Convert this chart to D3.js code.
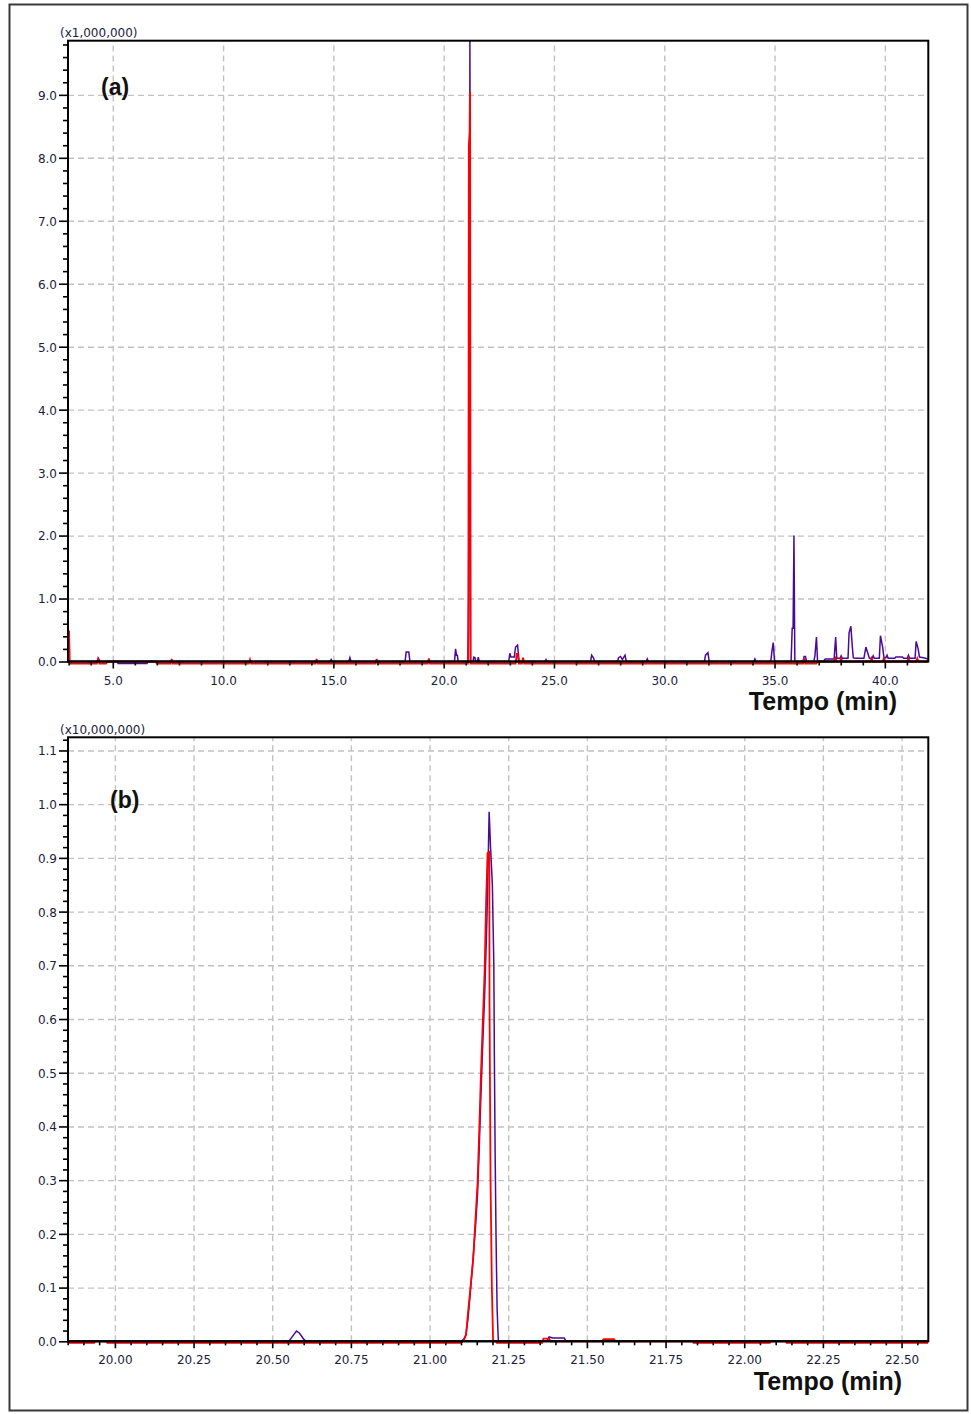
<!DOCTYPE html>
<html>
<head>
<meta charset="utf-8">
<script src="https://cdn.jsdelivr.net/npm/d3@7"></script>
<style>
  html, body { margin: 0; padding: 0; background: #fff; }
  svg { display: block; }
</style>
</head>
<body>
<svg id="chart" width="971" height="1414"></svg>
<script>
// ---------------- DATA ----------------
// Panel (a): full chromatogram, intensity x1,000,000
const purpleA = [
  [2.97,0],[4.28,0],[4.35,0.05],[4.42,0],
  [5.20,0],[5.24,-0.03],[6.55,-0.03],[6.60,0],
  [14.85,0],[14.90,0.03],[14.95,0],
  [15.70,0],[15.75,0.06],[15.80,0],
  [18.25,0],[18.30,0.15],[18.42,0.15],[18.47,0],
  [20.49,0],[20.54,0.20],[20.58,0.10],[20.62,0.10],[20.66,0],
  [21.10,0],[21.13,1.1],[21.16,4.5],[21.175,6.4],[21.189,9.86],[21.197,8.5],[21.205,5.4],[21.211,2.0],[21.218,0],
  [21.33,0],[21.37,0.07],[21.42,0.06],[21.46,0],
  [21.53,0],[21.57,0.07],[21.61,0],
  [22.95,0],[23.00,0.13],[23.05,0.07],[23.20,0.07],[23.26,0.23],[23.35,0.26],[23.42,0],
  [24.60,0],[24.64,0.03],[24.68,0],
  [26.66,0],[26.71,0.10],[26.79,0.06],[26.84,0],
  [27.88,0],[27.93,0.06],[28.02,0.08],[28.10,0.03],[28.22,0.10],[28.28,0],
  [29.18,0],[29.23,0.04],[29.28,0],
  [31.82,0],[31.87,0.10],[31.98,0.14],[32.04,0],
  [34.06,0],[34.11,0.04],[34.16,0],
  [34.83,0],[34.88,0.16],[34.94,0.30],[35.00,0],
  [35.75,0],[35.80,0.53],[35.84,0.53],[35.88,2.0],[35.92,0],
  [36.29,0],[36.34,0.08],[36.40,0.08],[36.45,0],
  [36.78,0],[36.83,0.09],[36.90,0.39],[36.95,0],
  [37.20,0],[37.30,0.04],[37.70,0.04],[37.77,0.39],[37.82,0.05],[37.97,0.05],[38.02,0.09],[38.07,0.05],
  [38.33,0.05],[38.38,0.46],[38.46,0.56],[38.52,0.26],[38.57,0.06],[38.65,0.05],[39.05,0.05],
  [39.14,0.23],[39.23,0.13],[39.30,0.05],[39.42,0.05],[39.47,0.09],[39.52,0.05],[39.75,0.05],
  [39.80,0.41],[39.90,0.23],[39.96,0.06],[40.05,0.06],[40.10,0.10],[40.15,0.05],[40.45,0.05],
  [40.50,0.07],[40.80,0.07],[40.85,0.05],[41.02,0.05],[41.07,0.10],[41.12,0.05],[41.37,0.05],
  [41.42,0.32],[41.51,0.20],[41.57,0.07],[41.75,0.06],[41.97,0.04]
];
const redA = [
  [2.97,0.48],[3.02,0.48],[3.05,-0.035],[4.28,-0.035],[4.33,0.04],[4.40,-0.035],[4.70,-0.035],[4.75,0],
  [6.95,0],[7.00,-0.035],[7.62,-0.035],[7.67,0.04],[7.72,-0.035],[11.17,-0.035],[11.22,0.03],[11.27,-0.035],
  [14.19,-0.035],[14.24,0.04],[14.29,-0.035],[16.91,-0.035],[16.96,0.04],[17.01,-0.035],
  [19.28,-0.035],[19.33,0.05],[19.38,-0.035],
  [21.10,-0.035],[21.12,0.5],[21.14,8.2],[21.175,8.4],[21.19,9.05],[21.20,8.2],[21.21,3.0],[21.22,-0.035],
  [23.26,-0.035],[23.31,0.12],[23.36,0.12],[23.41,-0.035],[23.55,-0.035],[23.60,0.06],[23.65,-0.035],
  [36.29,-0.035],[36.34,0.05],[36.39,-0.035],[36.90,-0.035],[36.95,0],
  [37.72,0],[37.77,0.05],[37.82,0],[37.97,0],[38.02,0.05],[38.07,0],[39.35,0],[39.40,0.05],[39.45,0],
  [39.90,0],[39.95,0.05],[40.00,0],[41.02,0],[41.07,0.05],[41.12,0],[41.42,0],[41.47,0.05],[41.52,0],[41.97,0]
];
// Panel (b): zoom on the main peak, intensity x10,000,000
const purpleB = [
  [19.851,0],[20.553,0],[20.568,0.012],[20.577,0.019],[20.587,0.015],[20.600,0.004],[20.607,0],
  [21.1017,0],[21.109,0.004],[21.1154,0.012],[21.1217,0.04],[21.128,0.08],[21.1328,0.115],[21.1385,0.155],
  [21.1462,0.215],[21.1525,0.275],[21.1576,0.355],[21.163,0.455],[21.1694,0.56],[21.1748,0.64],[21.1821,0.78],
  [21.1875,0.93],[21.1894,0.986],[21.1938,0.92],[21.1996,0.85],[21.2043,0.70],[21.2059,0.536],[21.2084,0.35],
  [21.2112,0.2],[21.2147,0.06],[21.2186,0],
  [21.372,0],[21.380,0.008],[21.392,0.006],[21.428,0.006],[21.434,0],[22.585,0]
];
const redB = [
  [19.851,-0.0030],[19.934,-0.0030],[19.938,0],[19.972,0],[19.976,-0.0030],[21.098,-0.0030],[21.105,0],
  [21.1112,0.005],[21.116,0.012],[21.1217,0.05],[21.1297,0.098],[21.1385,0.151],[21.1462,0.231],[21.1525,0.294],
  [21.1576,0.387],[21.163,0.492],[21.1694,0.598],[21.1748,0.685],[21.1799,0.821],[21.1843,0.909],[21.19,0.911],
  [21.1905,0.635],[21.1938,0.30],[21.198,0.10],[21.202,0],[21.211,0],[21.214,-0.0030],[21.358,-0.0030],
  [21.362,0.005],[21.380,0.005],[21.384,0],[21.549,0],[21.553,0.004],[21.586,0.004],[21.590,0],
  [21.835,0],[21.839,-0.0030],[22.081,-0.0030],[22.085,0],[22.131,0],[22.135,-0.0030],[22.585,-0.0030]
];
// Tick labels
const xTicksA = [5, 10, 15, 20, 25, 30, 35, 40];
const yTicksA = [0, 1, 2, 3, 4, 5, 6, 7, 8, 9];
const xTicksB = [20.00, 20.25, 20.50, 20.75, 21.00, 21.25, 21.50, 21.75, 22.00, 22.25, 22.50];
const yTicksB = [0.0, 0.1, 0.2, 0.3, 0.4, 0.5, 0.6, 0.7, 0.8, 0.9, 1.0, 1.1];
const xTitle = "Tempo (min)";
const panelLabels = ["(a)", "(b)"];
const multipliers = ["(x1,000,000)", "(x10,000,000)"];

// ---------------- DRAW ----------------
const svg = d3.select("#chart");
svg.append("rect").attr("width", 971).attr("height", 1414).attr("fill", "#fff");
svg.append("rect").attr("x", 9.5).attr("y", 4.5).attr("width", 958).attr("height", 1406)
  .attr("fill", "none").attr("stroke", "#3a3a3a").attr("stroke-width", 2);

const TXT = "#1c1c3c";
const PURPLE = "#4a0a96";
const RED = "#ff0000";

function panel(cfg) {
  const x = d3.scaleLinear().domain(cfg.xDomain).range([cfg.left, cfg.right]);
  const y = d3.scaleLinear().domain(cfg.yDomain).range([cfg.bottom, cfg.top]);
  const g = svg.append("g");
  const h = cfg.bottom - cfg.top, w = cfg.right - cfg.left;

  // grid
  const gx = g.append("g").attr("transform", `translate(0,${cfg.bottom})`)
    .call(d3.axisBottom(x).tickValues(cfg.xTicks).tickSize(-h).tickFormat(""));
  const gy = g.append("g").attr("transform", `translate(${cfg.left},0)`)
    .call(d3.axisLeft(y).tickValues(cfg.yTicks.filter(d => d > 0)).tickSize(-w).tickFormat(""));
  [gx, gy].forEach(a => {
    a.select(".domain").remove();
    a.selectAll("line").attr("stroke", "#c2c2c2").attr("stroke-width", 1.4).attr("stroke-dasharray", "6,4");
  });

  // traces
  const clipId = "clip" + cfg.id;
  svg.append("defs").append("clipPath").attr("id", clipId)
    .append("rect").attr("x", cfg.left).attr("y", cfg.top).attr("width", w).attr("height", h + 4);
  const line = d3.line().x(d => x(d[0])).y(d => y(d[1]));
  const tg = g.append("g").attr("clip-path", `url(#${clipId})`);
  tg.append("path").datum(cfg.purple).attr("d", line).attr("fill", "none")
    .attr("stroke", PURPLE).attr("stroke-width", 1.5).attr("stroke-linejoin", "miter");
  tg.append("path").datum(cfg.red).attr("d", line).attr("fill", "none")
    .attr("stroke", RED).attr("stroke-width", 1.8).attr("stroke-linejoin", "miter");

  // frame
  g.append("rect").attr("x", cfg.left).attr("y", cfg.top).attr("width", w).attr("height", h)
    .attr("fill", "none").attr("stroke", "#000").attr("stroke-width", 2);

  // axes
  const yMinor = d3.range(cfg.yMinorStep, cfg.yDomain[1], cfg.yMinorStep)
    .filter(v => !cfg.yTicks.some(t => Math.abs(t - v) < 1e-6));
  const xMinor = d3.range(cfg.xMinorStart, cfg.xDomain[1], cfg.xMinorStep)
    .filter(v => !cfg.xTicks.some(t => Math.abs(t - v) < 1e-6));

  const ay2 = g.append("g").attr("transform", `translate(${cfg.left},0)`)
    .call(d3.axisLeft(y).tickValues(yMinor).tickSize(5).tickFormat(""));
  const ay = g.append("g").attr("transform", `translate(${cfg.left},0)`)
    .call(d3.axisLeft(y).tickValues(cfg.yTicks).tickSize(9).tickPadding(2).tickFormat(d3.format(".1f")));
  const ax2 = g.append("g").attr("transform", `translate(0,${cfg.bottom})`)
    .call(d3.axisBottom(x).tickValues(xMinor).tickSize(4).tickFormat(""));
  const ax = g.append("g").attr("transform", `translate(0,${cfg.bottom})`)
    .call(d3.axisBottom(x).tickValues(cfg.xTicks).tickSize(7).tickFormat(d3.format(cfg.xFmt)));
  [ay, ay2, ax, ax2].forEach(a => {
    a.select(".domain").remove();
    a.selectAll("line").attr("stroke", "#000").attr("stroke-width", 1.6);
    a.selectAll("text").attr("font-family", "DejaVu Sans, sans-serif").attr("font-size", 12).attr("fill", TXT);
  });
  ay.selectAll("text").attr("dy", null).attr("y", 4.4);
  ax.selectAll("text").attr("dy", null).attr("y", 23);

  // axis lines
  g.append("line").attr("x1", cfg.left).attr("x2", cfg.left).attr("y1", cfg.top).attr("y2", cfg.bottom + 1)
    .attr("stroke", "#000").attr("stroke-width", 2);
  g.append("line").attr("x1", cfg.left - 1).attr("x2", cfg.right).attr("y1", cfg.bottom).attr("y2", cfg.bottom)
    .attr("stroke", "#000").attr("stroke-width", 2);

  // texts
  g.append("text").attr("x", cfg.left - 8).attr("y", cfg.top - 3.5).text(cfg.mult)
    .attr("font-family", "DejaVu Sans, sans-serif").attr("font-size", 12).attr("fill", TXT);
  g.append("text").attr("x", cfg.labelX).attr("y", cfg.labelY).text(cfg.label)
    .attr("font-family", "Liberation Sans, Arial, sans-serif").attr("font-weight", "bold")
    .attr("font-size", 23).attr("fill", "#111");
  g.append("text").attr("x", cfg.titleX).attr("y", cfg.titleY).text(xTitle)
    .attr("text-anchor", "end")
    .attr("font-family", "Liberation Sans, Arial, sans-serif").attr("font-weight", "bold")
    .attr("font-size", 25).attr("fill", "#111");
}

panel({
  id: "a", left: 68, right: 928.3, top: 40.7, bottom: 661.5,
  xDomain: [2.97, 41.97], yDomain: [0, 9.86],
  xTicks: xTicksA, yTicks: yTicksA, xFmt: ".1f",
  xMinorStart: 3, xMinorStep: 1, yMinorStep: 0.2,
  purple: purpleA, red: redA,
  mult: multipliers[0], label: panelLabels[0], labelX: 101, labelY: 95,
  titleX: 897, titleY: 710
});
panel({
  id: "b", left: 68, right: 928.3, top: 737.3, bottom: 1341.3,
  xDomain: [19.851, 22.585], yDomain: [0, 1.1245],
  xTicks: xTicksB, yTicks: yTicksB, xFmt: ".2f",
  xMinorStart: 19.85, xMinorStep: 0.05, yMinorStep: 0.02,
  purple: purpleB, red: redB,
  mult: multipliers[1], label: panelLabels[1], labelX: 110, labelY: 808,
  titleX: 902, titleY: 1390
});
</script>
</body>
</html>
